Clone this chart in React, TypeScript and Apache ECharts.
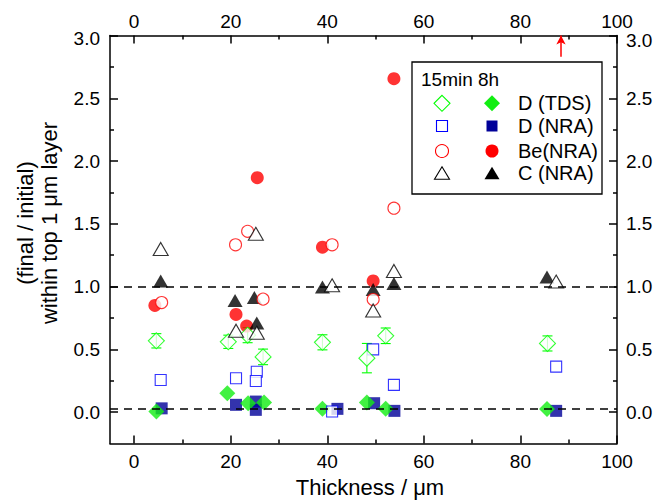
import React, { useEffect, useRef } from "react";
import * as echarts from "echarts";

// ---- data (x: thickness / µm, y: final/initial ratio) ----
const dTdsOpen: number[][] = [[4.6, 0.568], [19.5, 0.56], [23.5, 0.613], [26.7, 0.44], [39.0, 0.556], [48.2, 0.43], [52.1, 0.608], [85.6, 0.547]];
const dTdsOpenErr: number[] = [0.057, 0.053, 0.06, 0.062, 0.06, 0.117, 0.062, 0.06];
const dTdsFilled: number[][] = [[4.6, 0.005], [19.3, 0.15], [23.6, 0.07], [26.9, 0.076], [39.0, 0.026], [48.2, 0.076], [52.1, 0.026], [85.5, 0.024]];
const dNraOpen: number[][] = [[5.5, 0.256], [21.1, 0.27], [25.4, 0.322], [25.2, 0.248], [41.0, 0.005], [49.5, 0.5], [53.8, 0.217], [87.4, 0.362]];
const dNraFilled: number[][] = [[5.7, 0.03], [21.1, 0.058], [25.2, 0.084], [25.2, 0.018], [42.1, 0.026], [49.7, 0.071], [53.9, 0.01], [87.4, 0.01]];
const beOpen: number[][] = [[5.7, 0.873], [21.0, 1.333], [23.5, 1.44], [26.7, 0.9], [41.0, 1.333], [49.5, 0.897], [53.8, 1.624]];
const beFilled: number[][] = [[4.3, 0.85], [21.1, 0.778], [23.3, 0.685], [25.5, 1.867], [39.0, 1.314], [49.5, 1.045], [53.8, 2.656]];
const cOpen: number[][] = [[5.5, 1.3], [21.1, 0.648], [25.2, 1.42], [25.4, 0.632], [41.0, 1.01], [49.5, 0.81], [53.8, 1.124], [87.4, 1.04]];
const cFilled: number[][] = [[5.5, 1.045], [20.9, 0.89], [24.9, 0.913], [25.4, 0.71], [39.0, 0.997], [49.5, 0.976], [53.8, 1.024], [85.5, 1.076]];

const refLines: number[] = [1.0, 0.03];
const arrowX = 88.4;
const arrowFrom = 2.83;
const arrowTo = 3.0;

const xMajor: number[] = [0, 20, 40, 60, 80, 100];
const xMinor: number[] = [10, 30, 50, 70, 90];
const yMajor: number[] = [0, 0.5, 1.0, 1.5, 2.0, 2.5, 3.0];
const yMinor: number[] = [0.25, 0.75, 1.25, 1.75, 2.25, 2.75];

const legendTitle = "15min 8h";
const legendLabels: string[] = ["D (TDS)", "D (NRA)", "Be(NRA)", "C (NRA)"];

const FONT = "'Liberation Sans', Arial, Helvetica, sans-serif";
const GREEN = "#00ff00";
const GREEN_F = "#11ee11";
const BLUE = "#0000ff";
const NAVY = "#000099";
const RED = "#ff0000";
const BLACK = "#000000";

export default function App() {
  const ref = useRef<HTMLDivElement>(null);
  useEffect(() => {
    document.body.style.margin = "0";
    if (!ref.current) return;
    const chart = echarts.init(ref.current, null, { renderer: "svg" });

    const grid = { left: 110, right: 53, top: 35.5, bottom: 56.5 };
    const axisLineStyle = { color: BLACK, width: 1.5 };
    const labelStyle = { color: BLACK, fontSize: 19, fontFamily: FONT };

    const xMain = (position: string) => ({
      type: "value", gridIndex: 0, position, min: -5, max: 100,
      axisLine: { show: true, onZero: false, lineStyle: axisLineStyle },
      axisTick: { show: true, inside: true, length: 8, customValues: xMajor, lineStyle: axisLineStyle },
      axisLabel: { show: true, customValues: xMajor, margin: position === "top" ? 5 : 8, ...labelStyle },
      splitLine: { show: false },
    });
    const xMin = (position: string) => ({
      type: "value", gridIndex: 1, position, min: -5, max: 100,
      axisLine: { show: false, onZero: false },
      axisTick: { show: true, inside: true, length: 4, customValues: xMinor, lineStyle: axisLineStyle },
      axisLabel: { show: false },
      splitLine: { show: false },
    });
    const yMain = (position: string) => ({
      type: "value", gridIndex: 0, position, min: -0.25, max: 3.0,
      axisLine: { show: true, onZero: false, lineStyle: axisLineStyle },
      axisTick: { show: true, inside: true, length: 8, customValues: yMajor, lineStyle: axisLineStyle },
      axisLabel: {
        show: true, customValues: yMajor, margin: position === "left" ? 10 : 9,
        formatter: (v: number) => (v >= 2.99 ? `{top|${v.toFixed(1)}}` : v.toFixed(1)),
        rich: { top: { fontSize: 19, fontFamily: FONT, color: BLACK, padding: [position === "left" ? 6 : 10, 0, 0, 0] } },
        ...labelStyle,
      },
      splitLine: { show: false },
    });
    const yMin = (position: string) => ({
      type: "value", gridIndex: 1, position, min: -0.25, max: 3.0,
      axisLine: { show: false, onZero: false },
      axisTick: { show: true, inside: true, length: 4, customValues: yMinor, lineStyle: axisLineStyle },
      axisLabel: { show: false },
      splitLine: { show: false },
    });

    const scatter = (name: string, data: number[][], symbol: string, size: any, fill: string, border: string | null) => ({
      type: "scatter", name, data, symbol, symbolSize: size,
      xAxisIndex: 0, yAxisIndex: 0,
      itemStyle: border ? { color: fill, borderColor: border, borderWidth: 1.1 } : { color: fill, borderWidth: 0 },
      silent: true,
    });

    const errData = dTdsOpen.map((p, i) => [p[0], p[1], dTdsOpenErr[i]]);

    // legend graphics
    const rowsY = [103.3, 126, 151, 173.3];
    const xo = 442, xf = 492;
    const diamond = (cx: number, cy: number, fill: string, stroke: string | null) => ({
      type: "polygon", shape: { points: [[cx, cy - 8], [cx + 8, cy], [cx, cy + 8], [cx - 8, cy]] },
      style: stroke ? { fill, stroke, lineWidth: 1.1 } : { fill },
    });
    const square = (cx: number, cy: number, fill: string, stroke: string | null) => ({
      type: "rect", shape: { x: cx - 5.5, y: cy - 5.5, width: 11, height: 11 },
      style: stroke ? { fill, stroke, lineWidth: 1.1 } : { fill },
    });
    const circle = (cx: number, cy: number, fill: string, stroke: string | null) => ({
      type: "circle", shape: { cx, cy, r: 6.5 },
      style: stroke ? { fill, stroke, lineWidth: 1.1 } : { fill },
    });
    const triangle = (cx: number, cy: number, fill: string, stroke: string | null) => ({
      type: "polygon", shape: { points: [[cx, cy - 6.5], [cx + 7.5, cy + 6], [cx - 7.5, cy + 6]] },
      style: stroke ? { fill, stroke, lineWidth: 1.1 } : { fill },
    });

    const legendChildren: any[] = [
      { type: "rect", shape: { x: 412, y: 62, width: 190, height: 132 }, style: { fill: "#fff", stroke: BLACK, lineWidth: 1.3 } },
      { type: "text", x: 421, y: 79, style: { text: legendTitle, fill: BLACK, font: `19px ${FONT}`, textVerticalAlign: "middle", textAlign: "left" } },
      diamond(xo, rowsY[0], "#fff", GREEN), diamond(xf, rowsY[0], GREEN_F, null),
      square(xo, rowsY[1], "#fff", BLUE), square(xf, rowsY[1], NAVY, null),
      circle(xo, rowsY[2], "#fff", RED), circle(xf, rowsY[2], RED, null),
      triangle(xo, rowsY[3], "#fff", BLACK), triangle(xf, rowsY[3], BLACK, null),
      ...legendLabels.map((t, i) => ({
        type: "text", x: 518, y: rowsY[i], style: { text: t, fill: BLACK, font: `20px ${FONT}`, textVerticalAlign: "middle", textAlign: "left" },
      })),
    ];

    chart.setOption({
      animation: false,
      backgroundColor: "#fff",
      grid: [grid, grid],
      xAxis: [xMain("bottom"), xMain("top"), xMin("bottom"), xMin("top")],
      yAxis: [yMain("left"), yMain("right"), yMin("left"), yMin("right")],
      series: [
        {
          type: "custom", name: "errbars", xAxisIndex: 0, yAxisIndex: 0, data: errData,
          encode: { x: 0, y: 1 }, silent: true, clip: false,
          renderItem: (params: any, api: any) => {
            const x = api.value(0), y = api.value(1), e = api.value(2);
            const t = api.coord([x, y + e]);
            const b = api.coord([x, y - e]);
            const w = 5;
            const st = { stroke: GREEN, lineWidth: 1.1 };
            return {
              type: "group",
              children: [
                { type: "line", shape: { x1: t[0], y1: t[1], x2: b[0], y2: b[1] }, style: st },
                { type: "line", shape: { x1: t[0] - w, y1: t[1], x2: t[0] + w, y2: t[1] }, style: st },
                { type: "line", shape: { x1: b[0] - w, y1: b[1], x2: b[0] + w, y2: b[1] }, style: st },
              ],
            };
          },
          markLine: {
            silent: true, symbol: ["none", "none"], label: { show: false },
            lineStyle: { color: BLACK, type: [8, 6], width: 1.5 },
            data: refLines.map((v) => ({ yAxis: v })),
          },
        },
        scatter("D (NRA) 8h", dNraFilled, "rect", 12, NAVY, null),
        scatter("D (TDS) 8h", dTdsFilled, "diamond", 16, GREEN_F, null),
        {
          ...scatter("Be(NRA) 8h", beFilled, "circle", 13, RED, null),
          markLine: {
            silent: true, symbol: ["none", "arrow"], symbolSize: [7, 9], label: { show: false },
            lineStyle: { color: RED, type: "solid", width: 1.5 },
            data: [[{ coord: [arrowX, arrowFrom] }, { coord: [arrowX, arrowTo] }]],
          },
        },
        scatter("C (NRA) 8h", cFilled, "triangle", [15, 13], BLACK, null),
        scatter("D (NRA) 15min", dNraOpen, "rect", 11, "#fff", BLUE),
        scatter("D (TDS) 15min", dTdsOpen, "diamond", 16, "#fff", GREEN),
        scatter("Be(NRA) 15min", beOpen, "circle", 12, "#fff", RED),
        scatter("C (NRA) 15min", cOpen, "triangle", [15, 13], "#fff", BLACK),
      ],
      graphic: [
        {
          type: "text", x: 370, y: 487, z: 100,
          style: { text: "Thickness / μm", fill: BLACK, font: `22px ${FONT}`, textAlign: "center", textVerticalAlign: "middle" },
        },
        {
          type: "text", x: 37, y: 223, rotation: Math.PI / 2, z: 100,
          style: { text: "(final / initial)\nwithin top 1 μm layer", fill: BLACK, font: `22px ${FONT}`, textAlign: "center", textVerticalAlign: "middle", lineHeight: 24 },
        },
        { type: "group", z: 100, children: legendChildren },
      ],
    });
    return () => chart.dispose();
  }, []);
  return <div ref={ref} style={{ width: 670, height: 500 }} />;
}
